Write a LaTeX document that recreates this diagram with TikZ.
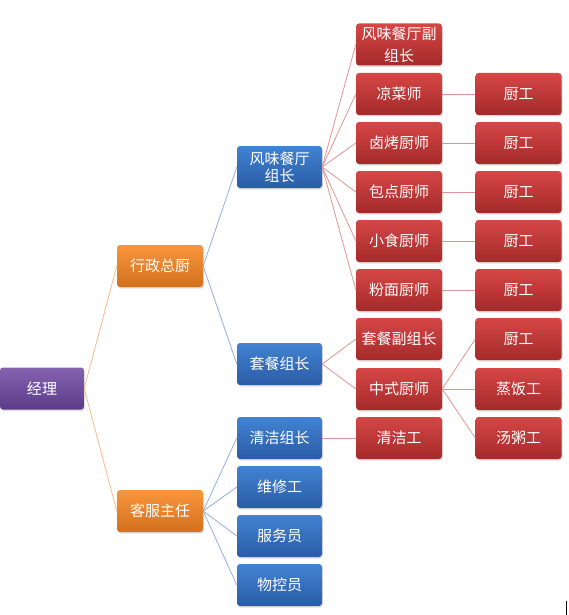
\documentclass[tikz,border=0pt]{standalone}
\usepackage{fontspec}
\newfontfamily\cjk{Noto Sans CJK SC}
\usetikzlibrary{shadows}

\definecolor{purpleTop}{HTML}{8462B0}
\definecolor{purpleBot}{HTML}{5C3C88}
\definecolor{orangeTop}{HTML}{F8953C}
\definecolor{orangeBot}{HTML}{D3701E}
\definecolor{blueTop}{HTML}{4283D2}
\definecolor{blueBot}{HTML}{2A5CA6}
\definecolor{redTop}{HTML}{D64646}
\definecolor{redBot}{HTML}{A42A2A}
\definecolor{orangeLine}{HTML}{F8BA8A}
\definecolor{blueLine}{HTML}{92AEDC}
\definecolor{redLine}{HTML}{E29494}

\begin{document}
\begin{tikzpicture}[x=1pt, y=-1pt,
  box/.style={rounded corners=3pt, minimum width=86pt, minimum height=42pt,
    inner sep=0pt, align=center, text=white,
    font=\cjk\fontsize{15}{17}\selectfont,
    drop shadow={opacity=0.25, shadow xshift=1pt, shadow yshift=-1.5pt}},
  rootbox/.style={box, top color=purpleTop, bottom color=purpleBot, minimum width=84pt},
  chefbox/.style={box, top color=orangeTop, bottom color=orangeBot},
  leadbox/.style={box, top color=blueTop, bottom color=blueBot, minimum width=85pt},
  staffbox/.style={box, top color=redTop, bottom color=redBot},
  orangelink/.style={orangeLine, line width=0.8pt},
  bluelink/.style={blueLine, line width=0.8pt},
  redlink/.style={redLine, line width=0.8pt}]
\useasboundingbox (0,0) rectangle (568,615);

% level 1 and 2
\node[rootbox] (jingli) at (42,388.5) {经理};
\node[chefbox] (xingzheng) at (160,266) {行政总厨};
\node[chefbox] (kefu) at (160,511) {客服主任};

% team leaders
\node[leadbox] (fengwei) at (279.5,167) {风味餐厅\\组长};
\node[leadbox] (taocan) at (279.5,364) {套餐组长};
\node[leadbox] (qingjie) at (279.5,438) {清洁组长};
\node[leadbox] (weixiu) at (279.5,487) {维修工};
\node[leadbox] (fuwu) at (279.5,536) {服务员};
\node[leadbox] (wukong) at (279.5,585) {物控员};

% cooks
\node[staffbox] (fuzu) at (399,44.5) {风味餐厅副\\[5pt]组长};
\node[staffbox] (liangcai) at (399,94) {凉菜师};
\node[staffbox] (lukao) at (399,143) {卤烤厨师};
\node[staffbox] (baodian) at (399,192) {包点厨师};
\node[staffbox] (xiaoshi) at (399,241) {小食厨师};
\node[staffbox] (fenmian) at (399,290) {粉面厨师};
\node[staffbox] (taofu) at (399,339) {套餐副组长};
\node[staffbox] (zhongshi) at (399,389) {中式厨师};
\node[staffbox] (qingjiegong) at (399,438) {清洁工};

% kitchen hands
\node[staffbox] (chugong1) at (518.5,94) {厨工};
\node[staffbox] (chugong2) at (518.5,143) {厨工};
\node[staffbox] (chugong3) at (518.5,192) {厨工};
\node[staffbox] (chugong4) at (518.5,241) {厨工};
\node[staffbox] (chugong5) at (518.5,290) {厨工};
\node[staffbox] (chugong6) at (518.5,339) {厨工};
\node[staffbox] (zhengfan) at (518.5,389) {蒸饭工};
\node[staffbox] (tangzhou) at (518.5,438) {汤粥工};

% links
\draw[orangelink] (jingli.east) -- (xingzheng.west);
\draw[orangelink] (jingli.east) -- (kefu.west);
\draw[bluelink] (xingzheng.east) -- (fengwei.west);
\draw[bluelink] (xingzheng.east) -- (taocan.west);
\foreach \n in {qingjie,weixiu,fuwu,wukong}
  \draw[bluelink] (kefu.east) -- (\n.west);
\foreach \n in {fuzu,liangcai,lukao,baodian,xiaoshi,fenmian}
  \draw[redlink] (fengwei.east) -- (\n.west);
\draw[redlink] (taocan.east) -- (taofu.west);
\draw[redlink] (taocan.east) -- (zhongshi.west);
\draw[redlink] (qingjie.east) -- (qingjiegong.west);
\draw[redlink] (liangcai.east) -- (chugong1.west);
\draw[redlink] (lukao.east) -- (chugong2.west);
\draw[redlink] (baodian.east) -- (chugong3.west);
\draw[redlink] (xiaoshi.east) -- (chugong4.west);
\draw[redlink] (fenmian.east) -- (chugong5.west);
\foreach \n in {chugong6,zhengfan,tangzhou}
  \draw[redlink] (zhongshi.east) -- (\n.west);

\draw[black, line width=1pt] (566.5,601) -- (566.5,615);
\end{tikzpicture}
\end{document}
